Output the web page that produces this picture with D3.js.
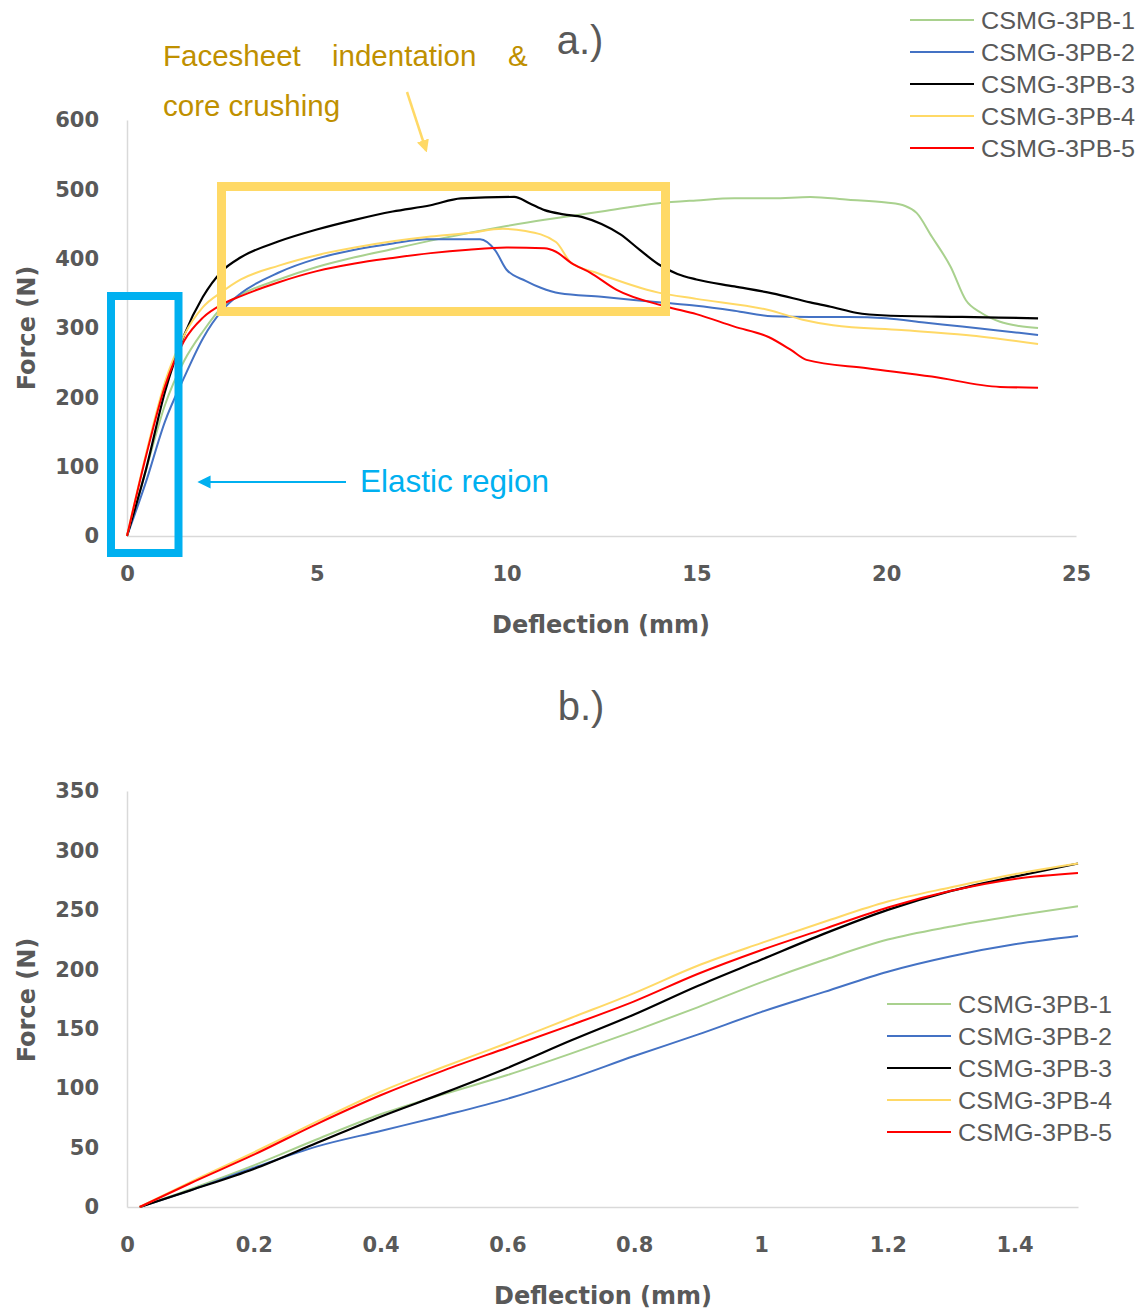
<!DOCTYPE html>
<html>
<head>
<meta charset="utf-8">
<script src="https://cdn.jsdelivr.net/npm/d3@7"></script>
<style>
  html, body { margin: 0; padding: 0; background: #fff; }
  svg { display: block; }
  .tick text { font-family: "DejaVu Sans", Verdana, sans-serif; font-weight: bold; font-size: 21px; fill: #595959; }
  .axis-title { font-family: "DejaVu Sans", Verdana, sans-serif; font-weight: bold; font-size: 24px; fill: #595959; }
  .legend text { font-family: "Liberation Sans", Arial, sans-serif; font-size: 24.5px; fill: #595959; }
  .panel-title { font-family: "Liberation Sans", Arial, sans-serif; font-size: 40px; fill: #595959; }
</style>
</head>
<body>
<svg width="1143" height="1312"></svg>
<script>
// series names + colours (Excel defaults)
const seriesNames = ['CSMG-3PB-1', 'CSMG-3PB-2', 'CSMG-3PB-3', 'CSMG-3PB-4', 'CSMG-3PB-5'];
const seriesColors = ['#A9D18E', '#4472C4', '#000000', '#FFD966', '#FF0000'];

// a.) full test, deflection (mm) vs force (N)
const fullS1 = [[0,0],[0.5,95],[1,189],[1.5,252],[2,295],[2.5,330],[3,348],[4,370],[5,388],[6,402],[7,414],[8,426],[9,437],[10,447],[11,456],[11.5,460],[12.5,468],[14,480],[15,484],[16,487],[17,487],[18,489],[19,485],[20,481],[20.5,476],[20.8,466],[21.2,432],[21.7,388],[22.1,340],[22.5,322],[23,309],[23.5,303],[24,300]];
const fullS2 = [[0,0],[0.5,78],[1,165],[1.5,228],[2,285],[2.5,325],[3,350],[4,380],[5,400],[6,413],[7,422],[7.9,428],[9.3,428],[9.7,412],[10,384],[10.5,368],[10.9,358],[11.4,350],[12.5,345],[14,337],[15,332],[16,325],[17,317],[18,316],[19,316],[20,314],[21,308],[22,302],[23,296],[24,290]];
const fullS3 = [[0,0],[0.5,96],[1,208],[1.5,289],[2,345],[2.5,382],[3,402],[4,425],[5,442],[6,456],[7,468],[8,477],[8.8,487],[10.2,489],[10.6,480],[11,470],[11.5,464],[12,460],[12.5,450],[13,435],[13.5,413],[14,392],[14.5,378],[15,370],[16,360],[17,350],[18,337],[18.6,330],[19.2,322],[20,318],[22,316],[24,314]];
const fullS4 = [[0,0],[0.5,118],[1,222],[1.5,289],[2,330],[2.5,352],[3,370],[4,390],[5,405],[6,416],[7,425],[8,432],[9,437],[9.9,443],[10.5,440],[11.3,424],[11.7,394],[12.4,379],[14,351],[15,342],[16.9,326],[17.8,312],[18.6,304],[20.4,297],[22.1,290],[24,277]];
const fullS5 = [[0,0],[0.5,115],[1,216],[1.5,281],[2,315],[2.5,334],[3,346],[4,366],[5,382],[6,393],[7,401],[8,408],[9,413],[10,416],[11,415],[11.3,410],[11.7,394],[12.2,380],[12.9,355],[14.2,331],[15,320],[16,302],[16.9,287],[17.5,268],[17.9,254],[19.5,242],[21.2,230],[23,215],[24,214]];

// b.) elastic region close-up
const elasS1 = [[0.02,0],[0.1,15],[0.2,35],[0.3,57],[0.4,78],[0.5,95],[0.6,111],[0.7,129],[0.8,148],[0.9,168],[1.0,189],[1.1,208],[1.2,225],[1.3,236],[1.4,245],[1.5,253]];
const elasS2 = [[0.02,0],[0.1,14],[0.2,33],[0.3,51],[0.4,64],[0.5,77],[0.6,91],[0.7,108],[0.8,127],[0.9,145],[1.0,164],[1.1,181],[1.2,198],[1.3,211],[1.4,221],[1.5,228]];
const elasS3 = [[0.02,0],[0.1,14],[0.2,32],[0.3,54],[0.4,76],[0.5,96],[0.6,117],[0.7,140],[0.8,162],[0.9,186],[1.0,208],[1.1,230],[1.2,250],[1.3,266],[1.4,278],[1.5,289]];
const elasS4 = [[0.02,0],[0.1,21],[0.2,46],[0.3,72],[0.4,97],[0.5,118],[0.6,138],[0.7,159],[0.8,180],[0.9,203],[1.0,222],[1.1,240],[1.2,257],[1.3,269],[1.4,280],[1.5,289]];
const elasS5 = [[0.02,0],[0.1,20],[0.2,44],[0.3,70],[0.4,94],[0.5,115],[0.6,134],[0.7,153],[0.8,173],[0.9,196],[1.0,216],[1.1,234],[1.2,252],[1.3,266],[1.4,276],[1.5,281]];

// tick values
const fullXTicks = [0, 5, 10, 15, 20, 25];
const fullYTicks = [0, 100, 200, 300, 400, 500, 600];
const elasXTicks = [0, 0.2, 0.4, 0.6, 0.8, 1, 1.2, 1.4];
const elasYTicks = [0, 50, 100, 150, 200, 250, 300, 350];

const svg = d3.select('svg');
const axisColor = '#D9D9D9';

function drawPanel(opts) {
    const g = svg.append('g');
    const x = d3.scaleLinear().domain(opts.xDomain).range([127, opts.xRight]);
    const y = d3.scaleLinear().domain(opts.yDomain).range([opts.yBottom, opts.yTop]);

    const xAxis = g.append('g')
        .attr('transform', `translate(0,${opts.yBottom})`)
        .call(d3.axisBottom(x).tickValues(opts.xTicks).tickSize(0).tickPadding(30).tickFormat(opts.xFormat));
    const yAxis = g.append('g')
        .attr('transform', 'translate(127,0)')
        .call(d3.axisLeft(y).tickValues(opts.yTicks).tickSize(0).tickPadding(28));
    [xAxis, yAxis].forEach((a) => {
        a.select('.domain').attr('stroke', axisColor).attr('stroke-width', 1.5);
    });

    const line = d3.line().curve(d3.curveMonotoneX).x((d) => x(d[0])).y((d) => y(d[1]));
    g.selectAll('path.series')
        .data(opts.series)
        .enter()
        .append('path')
        .attr('class', 'series')
        .attr('d', line)
        .attr('fill', 'none')
        .attr('stroke', (_, i) => seriesColors[i])
        .attr('stroke-width', (_, i) => (i === 2 ? 2.2 : 2))
        .attr('stroke-linejoin', 'round');

    g.append('text')
        .attr('class', 'axis-title')
        .attr('x', opts.xTitleX)
        .attr('y', opts.xTitleY)
        .attr('text-anchor', 'middle')
        .text('Deflection (mm)');
    g.append('text')
        .attr('class', 'axis-title')
        .attr('transform', `translate(35,${opts.yTitleY}) rotate(-90)`)
        .attr('text-anchor', 'middle')
        .text('Force (N)');

    const leg = g.append('g').attr('class', 'legend');
    seriesNames.forEach((name, i) => {
        const ly = opts.legendY + i * 32;
        leg.append('line')
            .attr('x1', opts.legendX).attr('x2', opts.legendX + 64)
            .attr('y1', ly).attr('y2', ly)
            .attr('stroke', seriesColors[i]).attr('stroke-width', 2);
        leg.append('text')
            .attr('x', opts.legendX + 71)
            .attr('y', ly + 8.5)
            .attr('textLength', 154)
            .attr('lengthAdjust', 'spacingAndGlyphs')
            .text(name);
    });
    return { g, x, y };
}

const panelA = drawPanel({
    xDomain: [0, 25], yDomain: [0, 600], xRight: 1076, yTop: 120, yBottom: 536,
    xTicks: fullXTicks, yTicks: fullYTicks, xFormat: d3.format('d'),
    series: [fullS1, fullS2, fullS3, fullS4, fullS5],
    xTitleX: 601, xTitleY: 633, yTitleY: 328,
    legendX: 910, legendY: 20
});

const panelB = drawPanel({
    xDomain: [0, 1.5], yDomain: [0, 350], xRight: 1078, yTop: 791, yBottom: 1207,
    xTicks: elasXTicks, yTicks: elasYTicks, xFormat: (d) => String(+d.toFixed(1)),
    series: [elasS1, elasS2, elasS3, elasS4, elasS5],
    xTitleX: 603, xTitleY: 1304, yTitleY: 1000,
    legendX: 887, legendY: 1004
});

// panel letters
svg.append('text').attr('class', 'panel-title').attr('x', 580).attr('y', 54).attr('text-anchor', 'middle').text('a.)');
svg.append('text').attr('class', 'panel-title').attr('x', 581).attr('y', 720).attr('text-anchor', 'middle').text('b.)');

// annotation boxes on panel a
const ga = panelA.g;
ga.append('rect')
    .attr('x', 111).attr('y', 296).attr('width', 67.5).attr('height', 257)
    .attr('fill', 'none').attr('stroke', '#00B0F0').attr('stroke-width', 8);
ga.append('rect')
    .attr('x', 221.5).attr('y', 186.5).attr('width', 444).attr('height', 125)
    .attr('fill', 'none').attr('stroke', '#FFD966').attr('stroke-width', 9);

// arrow heads
const defs = svg.append('defs');
defs.append('marker').attr('id', 'headY')
    .attr('viewBox', '0 0 10 10').attr('refX', 8).attr('refY', 5)
    .attr('markerWidth', 5).attr('markerHeight', 5).attr('orient', 'auto')
    .attr('markerUnits', 'strokeWidth')
    .append('path').attr('d', 'M0,0 L10,5 L0,10 z').attr('fill', '#FFD966');
defs.append('marker').attr('id', 'headB')
    .attr('viewBox', '0 0 10 10').attr('refX', 8).attr('refY', 5)
    .attr('markerWidth', 7).attr('markerHeight', 6).attr('orient', 'auto')
    .attr('markerUnits', 'strokeWidth')
    .append('path').attr('d', 'M0,0 L10,5 L0,10 z').attr('fill', '#00B0F0');

ga.append('line')
    .attr('x1', 407).attr('y1', 92).attr('x2', 426).attr('y2', 150)
    .attr('stroke', '#FFD966').attr('stroke-width', 2.5).attr('marker-end', 'url(#headY)');
ga.append('line')
    .attr('x1', 346).attr('y1', 482).attr('x2', 200).attr('y2', 482)
    .attr('stroke', '#00B0F0').attr('stroke-width', 2.2).attr('marker-end', 'url(#headB)');

const noteFont = '"Liberation Sans", Arial, sans-serif';
const note1 = ga.append('text').attr('font-family', noteFont).attr('font-size', 29.5).attr('fill', '#BF9000');
[['Facesheet', 163], ['indentation', 332], ['&', 508]].forEach(([t, px]) => {
    note1.append('tspan').attr('x', px).attr('y', 66).text(t);
});
ga.append('text').attr('font-family', noteFont).attr('font-size', 29.5).attr('fill', '#BF9000')
    .attr('x', 163).attr('y', 116).text('core crushing');
ga.append('text').attr('font-family', noteFont).attr('font-size', 31.5).attr('fill', '#00B0F0')
    .attr('x', 360).attr('y', 492).text('Elastic region');
</script>
</body>
</html>
